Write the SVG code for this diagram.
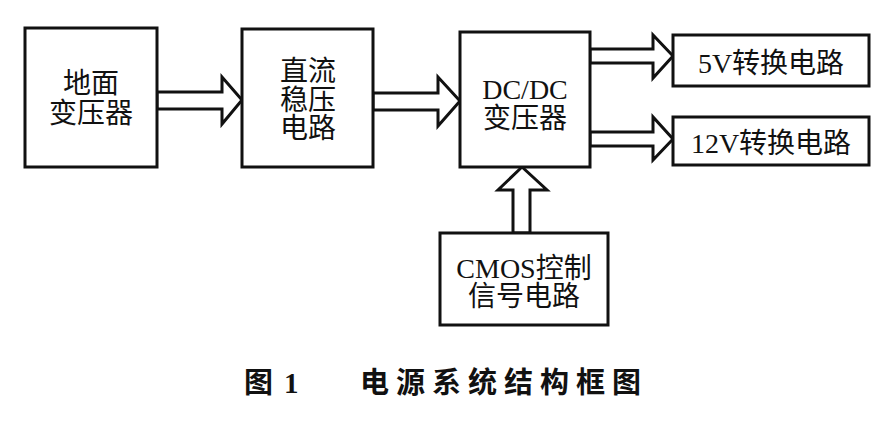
<svg xmlns="http://www.w3.org/2000/svg" width="890" height="421" viewBox="0 0 890 421">
<style>
.box{fill:#fff;stroke:#111;stroke-width:3}
.arr{fill:#fff;stroke:#111;stroke-width:3;stroke-linejoin:miter}
.t{font-family:"Liberation Serif","Noto Sans CJK SC",serif;font-size:28px;fill:#111;text-anchor:middle}
.cap{font-family:"Liberation Serif","Noto Sans CJK SC",serif;font-size:29px;font-weight:bold;fill:#111}
</style>
<rect width="890" height="421" fill="#fff"/>
<g id="connectors">
<polygon class="arr" points="157,92 222,92 222,77 242,100 222,124 222,109 157,109"/>
<polygon class="arr" points="373,93 438,93 438,77 460,101 438,126 438,110 373,110"/>
<polygon class="arr" points="590,49 653,49 653,35 673,56 653,78 653,63 590,63"/>
<polygon class="arr" points="590,132 653,132 653,117 673,139 653,160 653,146 590,146"/>
<polygon class="arr" points="513,233 513,190 498,190 522,167 547,190 530,190 530,233"/>
</g>
<g id="n1">
<rect class="box" x="25" y="28" width="132" height="139"/>
<text class="t" x="91" y="93">地面</text>
<text class="t" x="91" y="123">变压器</text>
</g>
<g id="n2">
<rect class="box" x="242" y="29" width="131" height="138"/>
<text class="t" x="308" y="81">直流</text>
<text class="t" x="308" y="110">稳压</text>
<text class="t" x="308" y="138">电路</text>
</g>
<g id="n3">
<rect class="box" x="460" y="32" width="130" height="135"/>
<text class="t" x="525" y="99">DC/DC</text>
<text class="t" x="525" y="128">变压器</text>
</g>
<g id="n4">
<rect class="box" x="673" y="35" width="196" height="51"/>
<text class="t" x="771" y="73">5V转换电路</text>
</g>
<g id="n5">
<rect class="box" x="673" y="117" width="196" height="48"/>
<text class="t" x="771" y="153">12V转换电路</text>
</g>
<g id="n6">
<rect class="box" x="440" y="233" width="168" height="92"/>
<text class="t" x="524" y="278">CMOS控制</text>
<text class="t" x="524" y="306">信号电路</text>
</g>
<g id="caption">
<text class="cap" x="244" y="393">图</text>
<text class="cap" x="284" y="393">1</text>
<text class="cap" x="360" y="393" letter-spacing="7">电源系统结构框图</text>
</g>
</svg>
